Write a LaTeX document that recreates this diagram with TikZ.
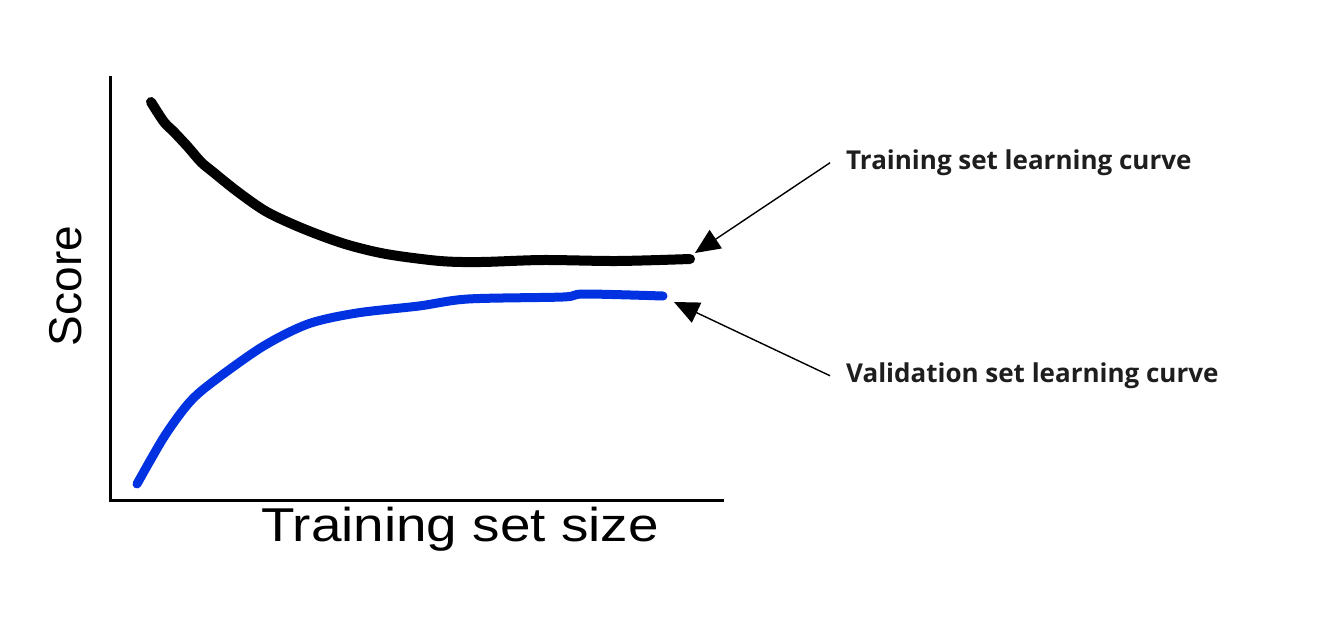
\documentclass[tikz,border=0pt]{standalone}
\usepackage{fontspec}
\setmainfont{Liberation Sans}
\newfontfamily\labelfont{Open Sans}
\newfontfamily\widefont[FakeStretch=1.155]{Liberation Sans}
\usepackage{xcolor}
\definecolor{curveblue}{RGB}{0,50,225}
\definecolor{labelgray}{RGB}{30,30,30}
\usetikzlibrary{arrows.meta}
\tikzset{
  axisline/.style={line width=3pt},
  curveline/.style={line width=10pt,line cap=round,line join=round},
  curvelabel/.style={anchor=base west,inner xsep=16pt,inner ysep=0pt,text=labelgray,
    font=\labelfont\bfseries\fontsize{26}{30}\selectfont},
  pointer/.style={line width=1.4pt,-{Triangle[length=25pt,width=22pt]}}
}

\begin{document}
\begin{tikzpicture}[x=1pt,y=-1pt]
  \useasboundingbox (0,0) rectangle (1328,616);
  % axes
  \coordinate (O) at (110,500);
  \coordinate (Ytop) at (110,76);
  \coordinate (Xend) at (724,500);
  \draw[axisline] (Ytop) -- (O) -- (Xend);
  \node[anchor=base,rotate=90,font=\fontsize{46}{50}\selectfont] (score) at (81,286) {Score};
  \node[anchor=base,font=\widefont\fontsize{47.5}{52}\selectfont] (size) at (460,541) {Training set size};
  % curves
  \draw[curveline] plot[smooth,tension=0.5] coordinates {(151,102) (164,122) (174,132) (188,147)
    (201,162) (213,172) (238,192) (267,212) (304,229) (345,244) (386,254) (440,261) (481,262)
    (543,260) (617,261) (690,259)};
  \draw[curveline,curveblue,line width=9pt] plot[smooth,tension=0.5] coordinates {(137,484) (164,437)
    (188,404) (210,384) (262,347) (308,324) (357,313) (419,306) (468,299) (563,297) (584,294)
    (663,296)};
  % labels and arrows
  \coordinate (traintip) at (695,253);
  \coordinate (valtip) at (674,302);
  \node[curvelabel] (trainlabel) at (830,169.5) {Training set learning curve};
  \node[curvelabel] (vallabel) at (830,382.5) {Validation set learning curve};
  \draw[pointer] (trainlabel.west) -- (traintip);
  \draw[pointer] (vallabel.west) -- (valtip);
\end{tikzpicture}
\end{document}
